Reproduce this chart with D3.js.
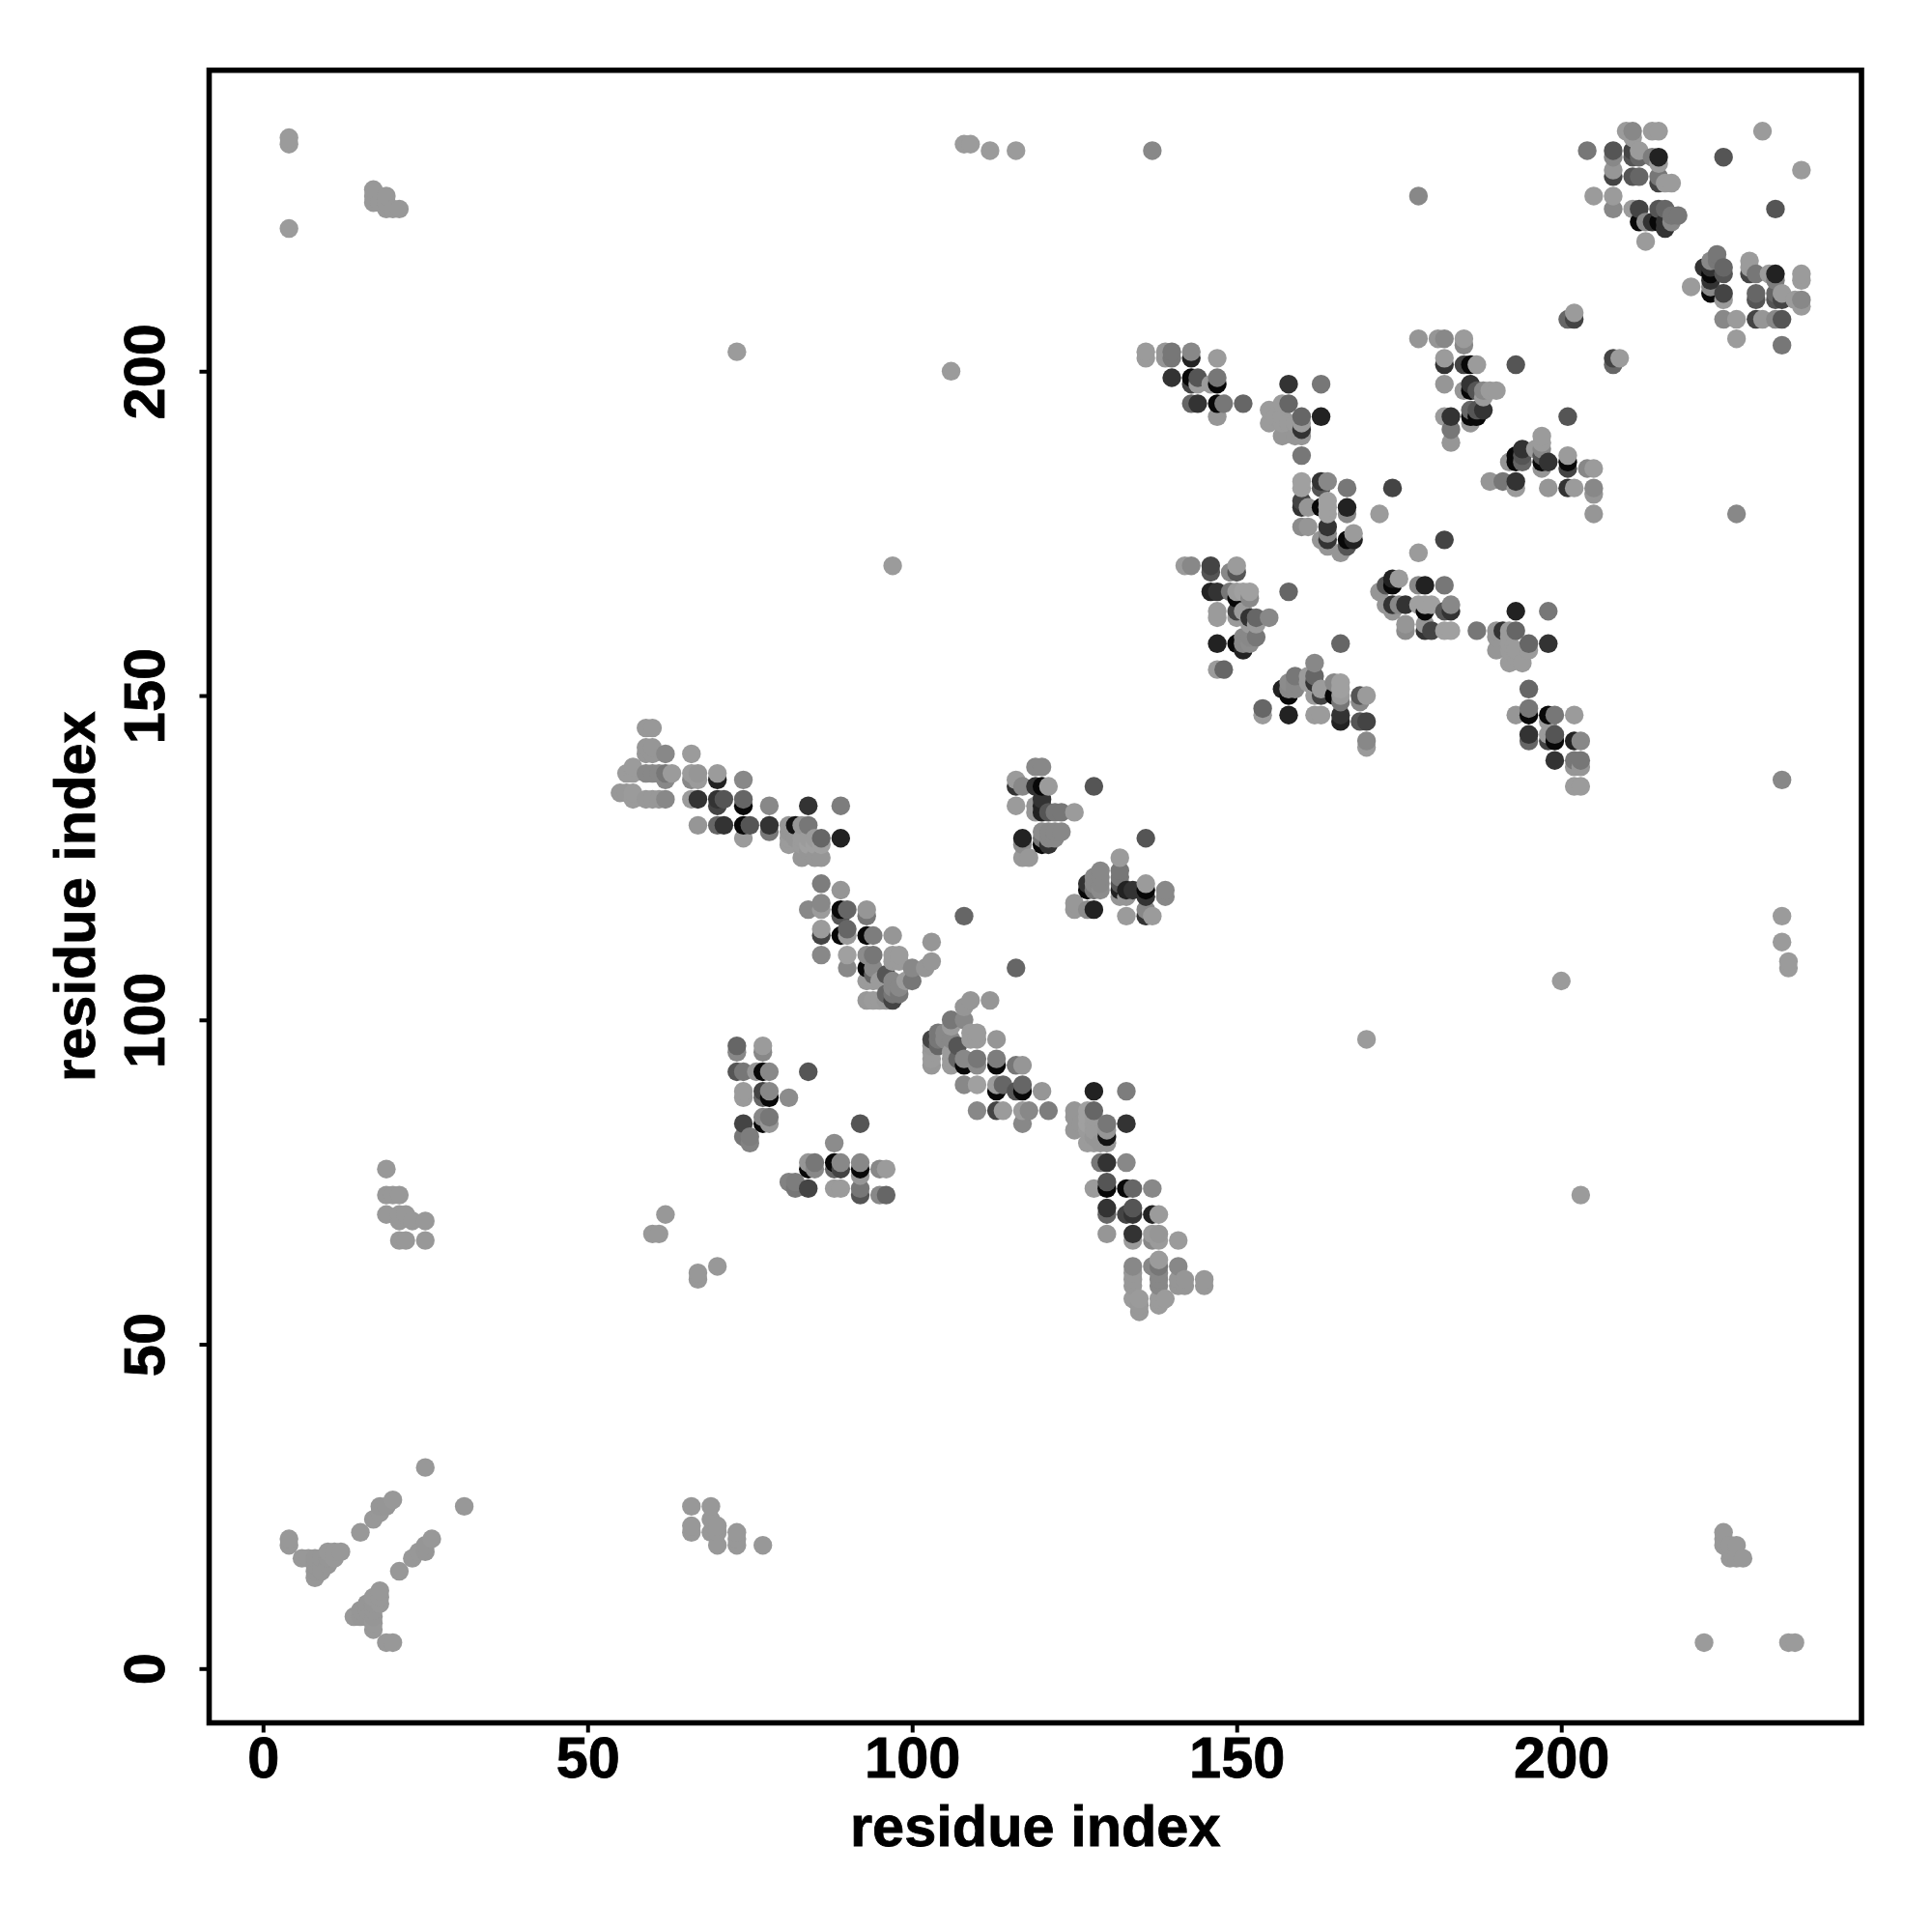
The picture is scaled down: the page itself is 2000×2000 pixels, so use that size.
<!DOCTYPE html>
<html><head><meta charset="utf-8">
<script src="https://cdn.jsdelivr.net/npm/d3@7/dist/d3.min.js"></script>
<style>html,body{margin:0;background:#fff}</style></head><body><div id="c"></div>
<script>
// each contact: [residue i, residue j, grey level]; drawn at (i,j) and (j,i)
const contactsTerminal=[[4,19,152],[4,20,152],[6,17,152],[7,17,152],[8,14,152],[8,15,150],[8,16,150],[8,17,150],[9,15,150],[9,16,150],[9,17,150],[10,16,150],[10,17,150],[10,18,152],[11,17,152],[11,18,152],[12,18,152],[15,21,152],[17,23,152],[18,24,152],[18,25,150],[19,25,150],[20,26,152],[25,31,152]];
const contactsFar=[[4,222,155],[4,235,155],[4,236,155],[17,226,152],[17,227,152],[17,228,152],[18,226,152],[19,225,152],[19,226,152],[19,227,152],[20,225,152],[21,225,152],[19,70,152],[19,73,152],[19,77,152],[20,73,152],[21,73,152],[21,70,152],[22,70,152],[21,69,152],[23,69,152],[25,69,152],[21,66,152],[22,66,152],[25,66,152],[60,67,152],[61,67,152],[62,70,152],[73,203,155],[97,170,155],[106,200,155],[108,235,155],[109,235,155],[112,234,155],[116,234,155],[137,234,136],[178,227,136],[231,237,155],[201,208,102],[202,208,68],[202,209,155]];
const contactsB=[[59,145,152],[60,145,152],[59,142,150],[60,142,150],[59,141,150],[60,141,150],[62,141,136],[66,141,155],[57,139,155],[56,138,155],[57,138,155],[59,138,136],[60,138,136],[61,138,136],[62,138,119],[63,138,155],[66,138,155],[67,138,150],[70,138,155],[62,137,136],[66,137,136],[67,137,155],[70,137,34],[74,137,136],[55,135,152],[56,135,152],[57,135,155],[57,134,155],[59,134,152],[60,134,152],[61,134,152],[62,134,136],[66,134,155],[67,134,51],[70,134,51],[71,134,85],[74,134,102],[70,133,68],[74,133,8],[78,133,136],[84,133,51],[89,133,125],[67,130,150],[70,130,102],[71,130,51],[74,130,8],[75,130,85],[78,130,51],[81,130,150],[82,130,20],[83,130,150],[84,130,119],[78,129,119],[81,129,150],[74,128,155],[81,128,155],[82,128,150],[83,128,155],[84,128,155],[85,128,155],[86,128,102],[89,128,34],[81,127,155],[83,127,155],[84,127,160],[85,127,160],[86,127,160],[83,125,150],[85,125,150],[86,125,150],[84,126,150]];
const contactsC=[[86,121,125],[89,120,150],[86,118,136],[84,117,136],[86,117,155],[89,117,8],[90,117,102],[93,117,150],[89,116,85],[93,116,119],[108,116,102],[86,114,155],[90,114,102],[86,113,68],[89,113,8],[90,113,155],[93,113,8],[94,113,125],[97,113,150],[103,112,150],[86,110,136],[90,110,160],[93,110,140],[94,110,119],[97,110,155],[98,110,155],[97,109,155],[98,109,155],[103,109,150],[90,108,136],[93,108,8],[94,108,136],[100,108,136],[102,108,150],[94,107,102],[96,107,85],[93,106,155],[94,106,155],[95,106,155],[97,106,136],[99,106,155],[100,106,119],[97,105,136],[98,105,136],[96,104,102],[97,104,119],[98,104,119],[93,103,152],[94,103,155],[95,103,155],[96,103,152],[97,103,68]];
const contactsD=[[119,139,136],[120,139,136],[116,137,155],[116,136,51],[117,136,136],[119,136,51],[120,136,8],[121,136,155],[128,136,85],[120,134,51],[116,133,155],[119,133,150],[120,133,34],[119,132,150],[120,132,34],[121,132,85],[122,132,119],[123,132,119],[125,132,155],[120,129,140],[121,129,136],[122,129,136],[123,129,136],[117,128,34],[120,128,119],[121,128,136],[122,128,136],[117,127,140],[120,127,8],[121,127,51],[117,125,152],[118,125,152]];
const contactsO=[[73,96,102],[77,96,155],[73,95,136],[77,95,136],[73,92,85],[74,92,119],[76,92,150],[77,92,8],[78,92,136],[84,92,85],[74,89,155],[77,89,68],[78,89,136],[74,88,155],[77,88,102],[78,88,8],[81,88,140],[77,85,136],[78,85,119],[74,84,68],[77,84,8],[78,84,150],[74,82,119],[75,82,125],[75,81,130]];
const contactsE=[[136,203,155],[136,202,155],[139,203,150],[140,203,119],[139,202,150],[140,202,119],[143,203,136],[143,202,34],[147,202,155],[140,199,51],[143,199,8],[144,199,85],[143,198,68],[144,198,155],[146,198,155],[147,199,119],[147,198,8],[143,195,102],[144,195,51],[147,195,8],[148,195,119],[151,195,102],[147,193,150],[158,198,51],[163,198,119],[158,195,102],[157,195,155],[155,194,155],[155,192,155],[156,193,155],[157,193,155],[158,192,155],[157,192,155],[159,192,155],[157,190,150],[159,190,150],[160,190,150],[160,192,155],[160,193,102],[163,193,34],[160,191,51],[160,187,119]];
const contactsF=[[160,183,160],[160,182,160],[160,180,68],[160,179,51],[161,179,150],[160,176,140],[161,176,150],[163,183,51],[164,183,136],[163,182,85],[167,182,119],[174,182,68],[163,179,8],[164,180,160],[164,179,160],[164,178,160],[167,179,34],[167,178,136],[164,176,51],[164,175,136],[164,174,51],[164,173,150],[163,174,150],[166,172,150],[167,174,8],[167,173,85],[168,175,155],[168,174,34],[172,178,155]];
const contactsG=[[178,205,150],[181,205,150],[182,205,136],[185,205,155],[185,204,136],[182,202,155],[182,201,51],[185,201,68],[186,201,8],[187,201,155],[193,201,85],[182,198,150],[185,197,150],[186,198,51],[186,197,8],[187,197,85],[188,197,136],[189,197,155],[190,197,155],[188,196,155],[182,193,155],[183,193,51],[183,191,119],[183,189,150],[186,194,102],[187,194,85],[188,194,51],[186,193,8],[187,193,8],[186,192,150]];
const contactsI=[[142,170,155],[143,170,136],[146,170,68],[146,169,85],[149,169,136],[150,170,155],[150,169,85],[146,166,34],[147,166,51],[149,166,119],[150,166,155],[151,166,160],[152,166,160],[152,165,136],[150,165,8],[158,166,102],[147,163,155],[147,162,155],[150,163,68],[150,162,155],[151,163,155],[152,162,51],[153,162,102],[155,162,136],[152,161,155],[153,161,155],[147,158,34],[150,158,8],[151,159,136],[152,159,136],[153,159,119],[151,158,136],[152,158,140],[151,157,34],[147,154,155],[148,154,102]];
const contactsTop=[[210,237,155],[211,237,136],[214,237,155],[215,237,155],[211,236,155],[204,234,119],[208,234,85],[208,233,136],[208,231,150],[208,230,68],[211,234,68],[212,234,155],[212,233,102],[211,233,85],[214,233,125],[215,233,34],[215,232,155],[211,230,85],[212,230,102],[215,230,119],[215,229,68],[216,229,155],[217,229,155],[205,227,155],[208,227,155],[208,225,136],[211,225,155],[212,225,68],[212,223,8],[213,223,136],[214,223,51],[215,223,8],[215,225,85],[216,225,102],[216,223,51],[217,223,136],[216,222,51],[217,224,119],[218,224,119],[213,220,155],[225,233,85]];
const xTicks=[0,50,100,150,200];
const yTicks=[0,50,100,150,200];
const axisTitle="residue index";

const allContacts=[].concat(contactsTerminal,contactsFar,contactsB,contactsC,contactsD,contactsO,contactsE,contactsF,contactsG,contactsI,contactsTop);
const points=allContacts.flatMap(c=>[{x:c[0],y:c[1],g:c[2]},{x:c[1],y:c[0],g:c[2]}])
  .sort((a,b)=>d3.ascending(a.x,b.x)||d3.ascending(a.y,b.y));

const W=2000,H=2000,L=216.5,R=1927,T=72.7,B=1783.5;
const x=d3.scaleLinear().domain([-8.3,246.25]).range([L,R]);
const y=d3.scaleLinear().domain([-8.37,246.4]).range([B,T]);
const svg=d3.select("#c").append("svg").attr("width",W).attr("height",H).style("display","block");
svg.append("g").selectAll("circle").data(points).join("circle")
  .attr("cx",d=>x(d.x)).attr("cy",d=>y(d.y)).attr("r",9.7)
  .attr("fill",d=>d3.rgb(d.g,d.g,d.g).formatHex());
svg.append("rect").attr("x",L).attr("y",T).attr("width",R-L).attr("height",B-T)
  .attr("fill","none").attr("stroke","#000").attr("stroke-width",5.6);
const font="'Liberation Sans',Arial,sans-serif";
const fontSize=59.5;
const heavy=s=>s.attr("stroke","#000").attr("stroke-width",0.8);
const ax=svg.append("g").attr("transform",`translate(0,${B})`)
  .call(d3.axisBottom(x).tickValues(xTicks).tickSize(10).tickPadding(0).tickFormat(d3.format("d")));
ax.select(".domain").remove();
ax.selectAll("line").attr("stroke","#000").attr("stroke-width",4);
ax.selectAll("text").attr("y",56.5).attr("dy",0).attr("fill","#000").call(heavy)
  .style("font",`bold ${fontSize}px ${font}`).attr("text-anchor","middle");
const ay=svg.append("g").attr("transform",`translate(${L},0)`)
  .call(d3.axisLeft(y).tickValues(yTicks).tickSize(10).tickPadding(0).tickFormat(d3.format("d")));
ay.select(".domain").remove();
ay.selectAll("line").attr("stroke","#000").attr("stroke-width",4);
ay.selectAll("text").attr("x",0).attr("dy",0).attr("fill","#000").call(heavy)
  .attr("transform","translate(-46.5,0) rotate(-90)")
  .style("font",`bold ${fontSize}px ${font}`).attr("text-anchor","middle");
svg.append("text").attr("x",(L+R)/2).attr("y",1911).attr("text-anchor","middle").call(heavy)
  .style("font",`bold ${fontSize}px ${font}`).text(axisTitle);
svg.append("text").attr("transform",`translate(98,${(T+B)/2}) rotate(-90)`).attr("text-anchor","middle").call(heavy)
  .style("font",`bold ${fontSize}px ${font}`).text(axisTitle);
</script></body></html>
